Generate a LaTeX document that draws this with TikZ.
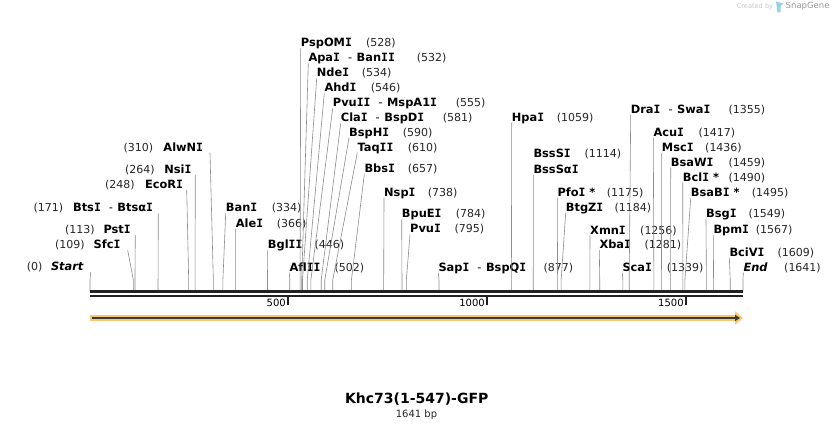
\documentclass[tikz,border=0pt]{standalone}
\usepackage{fontspec}
\setmainfont{DejaVu Sans}
\newfontfamily\monofam{DejaVu Sans Mono}
\usetikzlibrary{arrows.meta}
\definecolor{sitegray}{HTML}{8C8C8C}
\definecolor{featorange}{HTML}{F8C870}
\definecolor{featdark}{HTML}{3A3A3A}
\definecolor{logoblue}{HTML}{9ACFEC}
\newcommand{\dsh}{\hspace{8pt}{\mdseries -}\hspace{4.5pt}}
\newcommand{\sI}{{\monofam I}}

\begin{document}
\begin{tikzpicture}[x=1pt,y=-1pt,
  site/.style={draw=sitegray,line width=0.6pt},
  enzyme/.style={inner sep=0pt,font=\fontsize{11.4}{13}\selectfont\bfseries},
  cutpos/.style={inner sep=0pt,font=\fontsize{11}{13}\selectfont,text=black!85}]
\fill[white] (0,0) rectangle (834,430);
\useasboundingbox (0,0) rectangle (834,430);

% sites, label on the right of the line
\foreach \bp/\nm/\lx/\ly/\px in {334/Ban\sI/225.7/207.3/271.7, 366/Ale\sI/235.7/222.7/276.7,
  446/Bgl\sI\sI/267.7/244.3/314.3, 502/Afl\sI\sI/289.3/266.7/334.3, 528/PspOM\sI/300.7/42.3/366,
  532/{Apa\sI\dsh Ban\sI\sI}/308.3/57.3/416.7, 534/Nde\sI/316.7/72.3/361.7, 546/Ahd\sI/324.3/87.3/370.7,
  555/{Pvu\sI\sI\dsh MspA1\sI}/332.7/102.3/455.7, 581/{Cla\sI\dsh BspD\sI}/340.7/117.3/442.7,
  590/BspH\sI/349/131.7/402.7, 610/Taq\sI\sI/357.3/146.7/407.7, 657/Bbs\sI/364.3/168.3/407.7,
  738/Nsp\sI/384/191.7/427.7, 784/BpuE\sI/401.7/213.3/455.7, 795/Pvu\sI/410/228.3/454.3,
  877/{Sap\sI\dsh BspQ\sI}/438.3/266.7/543.3, 1059/Hpa\sI/511.7/116.7/556.7,
  1175/{Pfo\sI{} *}/557.3/191.7/606.7, 1184/BtgZ\sI/565.7/206.7/614.3, 1256/Xmn\sI/590/229.5/640,
  1281/Xba\sI/599.3/244/644.3, 1339/Sca\sI/622.3/266.7/666.7, 1355/{Dra\sI\dsh Swa\sI}/630.7/109/728.3,
  1417/Acu\sI/653.3/131.7/698.3, 1436/Msc\sI/661.7/147.3/705, 1459/BsaW\sI/670.7/161.7/728.3,
  1490/{Bcl\sI{} *}/682.7/176.7/728.3, 1495/{BsaB\sI{} *}/690.7/192.3/751.7, 1549/Bsg\sI/706/213.3/748.3,
  1567/Bpm\sI/713.3/229.3/755.7, 1609/BciV\sI/729.3/251.7/777.3, 1641/{\textit{End}}/743.3/266.7/784}{
  \coordinate (s\bp) at ({90+\bp/1641*653},291);
  \node[enzyme,anchor=base west] (e\bp) at (\lx,\ly+4.5) {\nm};
  \node[cutpos,anchor=base west] (c\bp) at (\px,\ly+4.5) {(\bp)};
  \draw[site] (s\bp) -- ++(0,-11) -- ([yshift=-1.5pt]e\bp.base west);
}

% sites, label on the left of the line
\foreach \bp/\nm/\ex/\lx/\ly/\px in {0/{\textit{Start}}/84/90.7/266/26.7, 109/Sfc\sI/120.7/127.7/244.3/55,
  113/Pst\sI/131/135.3/229/65, 171/{Bts\sI\dsh Btsα\sI}/153.3/158.3/207.3/33.3,
  248/EcoR\sI/183.3/186.7/184/105, 264/Nsi\sI/191.7/195.3/169/125, 310/AlwN\sI/203.3/210/146.7/123.3}{
  \coordinate (s\bp) at ({90+\bp/1641*653},291);
  \node[enzyme,anchor=base east] (e\bp) at (\ex,\ly+4.5) {\nm};
  \node[cutpos,anchor=base west] (c\bp) at (\px,\ly+4.5) {(\bp)};
  \draw[site] (s\bp) -- ++(0,-11) -- ([xshift={(\lx-\ex)*1pt},yshift=-1.5pt]e\bp.base east);
}

% BssSI and BssSaI share one site
\coordinate (s1114) at ({90+1114/1641*653},291);
\node[enzyme,anchor=base west] (e1114a) at (533.3,157.8) {BssS\sI};
\node[cutpos,anchor=base west] (c1114) at (584.3,157.8) {(1114)};
\node[enzyme,anchor=base west] (e1114) at (533.3,173.5) {BssSα\sI};
\draw[site] (s1114) -- ([yshift=-1.5pt]e1114.base west);

% backbone and scale
\draw[line width=2.7pt,black!87] (90,291.7) -- (743,291.7);
\draw[line width=2.7pt,black!87] (90,295.9) -- (743,295.9);
\foreach \t in {500,1000,1500}{
  \coordinate (k\t) at ({90+\t/1641*653-1},297);
  \draw[line width=1.4pt,black!87] (k\t) -- ++(0,8);
  \node[inner sep=0pt,anchor=east,font=\fontsize{10}{12}\selectfont] (m\t) at ([xshift=-2pt,yshift=-6pt]k\t) {\t};
}

% feature arrow
\draw[featorange,line width=6pt,-{Triangle[length=8pt,width=13pt]}] (90,318) -- (743,318);
\draw[featdark,line width=2pt,-{Triangle[length=5pt,width=6pt]}] (92,318) -- (740,318);

% title
\node[font=\fontsize{14}{16}\selectfont\bfseries] (title) at (416.7,399) {Khc73(1-547)-GFP};
\node[font=\fontsize{10}{12}\selectfont,text=black!85] (size) at (416.5,414.3) {1641 bp};

% credit
\node[inner sep=0pt,anchor=east,font=\fontsize{6.6}{8}\selectfont,text=black!22] (made) at (773.3,6.7) {Created by};
\fill[logoblue] (776,1.5) -- (783,3.5) -- (780.5,6.5) -- (780.5,12.3) -- (777.5,12.3) -- cycle;
\node[inner sep=0pt,anchor=west,font=\fontsize{8.5}{10}\selectfont,text=black!40] (brand) at (785.5,6.7) {SnapGene};
\end{tikzpicture}
\end{document}
